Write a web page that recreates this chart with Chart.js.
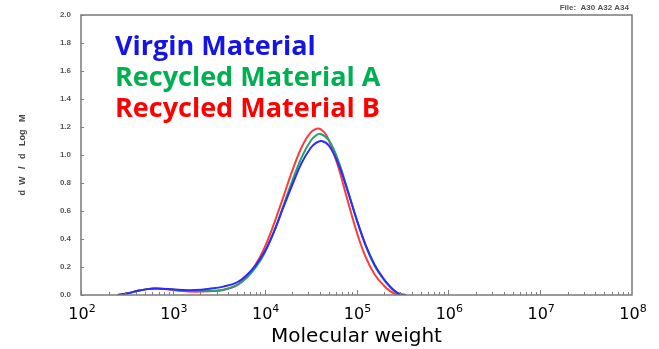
<!DOCTYPE html>
<html>
<head>
<meta charset="utf-8">
<script src="https://cdn.jsdelivr.net/npm/chart.js@4"></script>
<style>
  html, body { margin: 0; padding: 0; background: #fff; }
</style>
</head>
<body>
<canvas id="gpcChart" width="659" height="349"></canvas>
<script>
// Series names and colours
const seriesLabels = ['Virgin Material', 'Recycled Material A', 'Recycled Material B'];
const lineColors = ['#2b2bff', '#2a9f6a', '#ff3a3a'];
const textColors = ['#1414e6', '#00b050', '#ff0000'];

// log10(molecular weight) and dW/dlogM
const virginLogM = [2.40, 2.50, 2.62, 2.72, 2.81, 2.95, 3.10, 3.25, 3.40, 3.55, 3.70, 3.80, 3.90, 4.00, 4.10, 4.20, 4.30, 4.40, 4.50, 4.56, 4.62, 4.70, 4.80, 4.90, 5.00, 5.10, 5.20, 5.30, 5.38, 5.44, 5.49, 5.54];
const virginW    = [0, 0.01, 0.03, 0.042, 0.046, 0.042, 0.035, 0.035, 0.045, 0.06, 0.09, 0.14, 0.21, 0.31, 0.45, 0.62, 0.785, 0.94, 1.05, 1.087, 1.10, 1.066, 0.94, 0.75, 0.543, 0.357, 0.213, 0.112, 0.05, 0.018, 0.004, 0];

const recycledALogM = [2.40, 2.50, 2.62, 2.72, 2.81, 2.95, 3.10, 3.25, 3.40, 3.55, 3.70, 3.80, 3.90, 4.00, 4.10, 4.20, 4.30, 4.40, 4.50, 4.56, 4.61, 4.70, 4.80, 4.90, 5.00, 5.10, 5.20, 5.30, 5.38, 5.44, 5.49, 5.54];
const recycledAW    = [0, 0.01, 0.03, 0.042, 0.046, 0.042, 0.032, 0.028, 0.03, 0.038, 0.07, 0.12, 0.195, 0.30, 0.45, 0.63, 0.814, 0.98, 1.10, 1.14, 1.15, 1.105, 0.962, 0.759, 0.542, 0.351, 0.206, 0.107, 0.048, 0.017, 0.004, 0];

const recycledBLogM = [2.40, 2.50, 2.62, 2.72, 2.81, 2.95, 3.10, 3.25, 3.40, 3.55, 3.70, 3.80, 3.90, 4.00, 4.10, 4.20, 4.30, 4.40, 4.50, 4.584, 4.65, 4.70, 4.80, 4.90, 5.00, 5.10, 5.20, 5.30, 5.37, 5.43, 5.48];
const recycledBW    = [0, 0.01, 0.03, 0.042, 0.046, 0.04, 0.028, 0.024, 0.027, 0.036, 0.07, 0.13, 0.215, 0.34, 0.506, 0.694, 0.886, 1.052, 1.16, 1.19, 1.161, 1.104, 0.918, 0.683, 0.455, 0.271, 0.145, 0.066, 0.026, 0.007, 0];

// Axis ticks
const xDecades = [2, 3, 4, 5, 6, 7, 8];
const yTicks = [0, 0.2, 0.4, 0.6, 0.8, 1.0, 1.2, 1.4, 1.6, 1.8, 2.0];

function toPoints(xs, ys) {
    return xs.map((x, i) => ({ x: x, y: ys[i] }));
}

const allX = [virginLogM, recycledALogM, recycledBLogM];
const allY = [virginW, recycledAW, recycledBW];

// Frame, inside tick marks, power-of-ten labels, legend text and file note
const decorPlugin = {
    id: 'decor',
    afterDraw(chart) {
        const ctx = chart.ctx;
        const area = chart.chartArea;
        const xs = chart.scales.x;
        const ys = chart.scales.y;
        ctx.save();

        // tick marks pointing into the plot
        ctx.strokeStyle = '#808080';
        ctx.lineWidth = 1;
        ctx.beginPath();
        yTicks.forEach(v => {
            const py = Math.round(ys.getPixelForValue(v)) + 0.5;
            ctx.moveTo(area.left, py);
            ctx.lineTo(area.left + 3, py);
        });
        for (let d = 2; d < 8; d++) {
            for (let k = 1; k <= 9; k++) {
                const px = Math.round(xs.getPixelForValue(d + Math.log10(k))) + 0.5;
                const len = k === 1 ? 5 : 3;
                ctx.moveTo(px, area.bottom);
                ctx.lineTo(px, area.bottom - len);
            }
        }
        ctx.stroke();

        // plot frame
        ctx.lineWidth = 1.5;
        ctx.strokeStyle = '#7a7a7a';
        ctx.strokeRect(area.left, area.top, area.right - area.left, area.bottom - area.top);

        // x labels as 10 with a raised exponent
        ctx.fillStyle = '#000';
        ctx.textBaseline = 'alphabetic';
        xDecades.forEach(d => {
            const px = xs.getPixelForValue(d);
            ctx.font = '16px "DejaVu Sans"';
            const wBase = ctx.measureText('10').width;
            ctx.font = '11px "DejaVu Sans"';
            const wExp = ctx.measureText(String(d)).width;
            const x0 = px - (wBase + wExp) / 2 + 1;
            ctx.textAlign = 'left';
            ctx.font = '16px "DejaVu Sans"';
            ctx.fillText('10', x0, 319);
            ctx.font = '11px "DejaVu Sans"';
            ctx.fillText(String(d), x0 + wBase, 312);
        });

        // legend text
        ctx.font = 'bold 27px "Open Sans"';
        ctx.textAlign = 'left';
        seriesLabels.forEach((label, i) => {
            ctx.fillStyle = textColors[i];
            ctx.fillText(label, 115, 55 + i * 31);
        });

        // file note
        ctx.font = 'bold 8px "Liberation Sans"';
        ctx.fillStyle = '#555';
        ctx.textAlign = 'right';
        ctx.fillText('File:  A30 A32 A34', 629, 10);
        ctx.restore();
    }
};

const ctx = document.getElementById('gpcChart').getContext('2d');
const chart = new Chart(ctx, {
    type: 'line',
    data: {
        datasets: seriesLabels.map((label, i) => ({
            label: label,
            data: toPoints(allX[i], allY[i]),
            borderColor: lineColors[i],
            borderWidth: 2,
            pointRadius: 0,
            fill: false,
            tension: 0.4
        }))
    },
    options: {
        responsive: false,
        animation: false,
        layout: { padding: { top: 15, right: 27, left: 0, bottom: 0 } },
        plugins: {
            legend: { display: false },
            tooltip: { enabled: false }
        },
        scales: {
            x: {
                type: 'linear',
                min: 2,
                max: 8,
                afterBuildTicks: scale => { scale.ticks = xDecades.map(v => ({ value: v })); },
                afterFit: scale => { scale.height = 54; },
                grid: { display: false, drawTicks: false },
                border: { display: false },
                ticks: { display: false },
                title: {
                    display: true,
                    text: 'Molecular weight',
                    color: '#000',
                    font: { family: '"DejaVu Sans"', size: 20 },
                    padding: { top: 0, bottom: 0 }
                }
            },
            y: {
                min: 0,
                max: 2,
                afterBuildTicks: scale => { scale.ticks = yTicks.map(v => ({ value: v })); },
                afterFit: scale => { scale.width = 81; },
                grid: { display: false, drawTicks: false },
                border: { display: false },
                ticks: {
                    padding: 10,
                    color: '#555',
                    font: { family: '"Liberation Sans"', size: 8, weight: 'bold' },
                    callback: v => v.toFixed(1)
                },
                title: {
                    display: true,
                    text: 'd  W   /   d   Log   M',
                    color: '#444',
                    font: { family: '"Liberation Sans"', size: 9, weight: 'bold' },
                    padding: { top: 17, bottom: 0 }
                }
            }
        }
    },
    plugins: [decorPlugin]
});
</script>
</body>
</html>
